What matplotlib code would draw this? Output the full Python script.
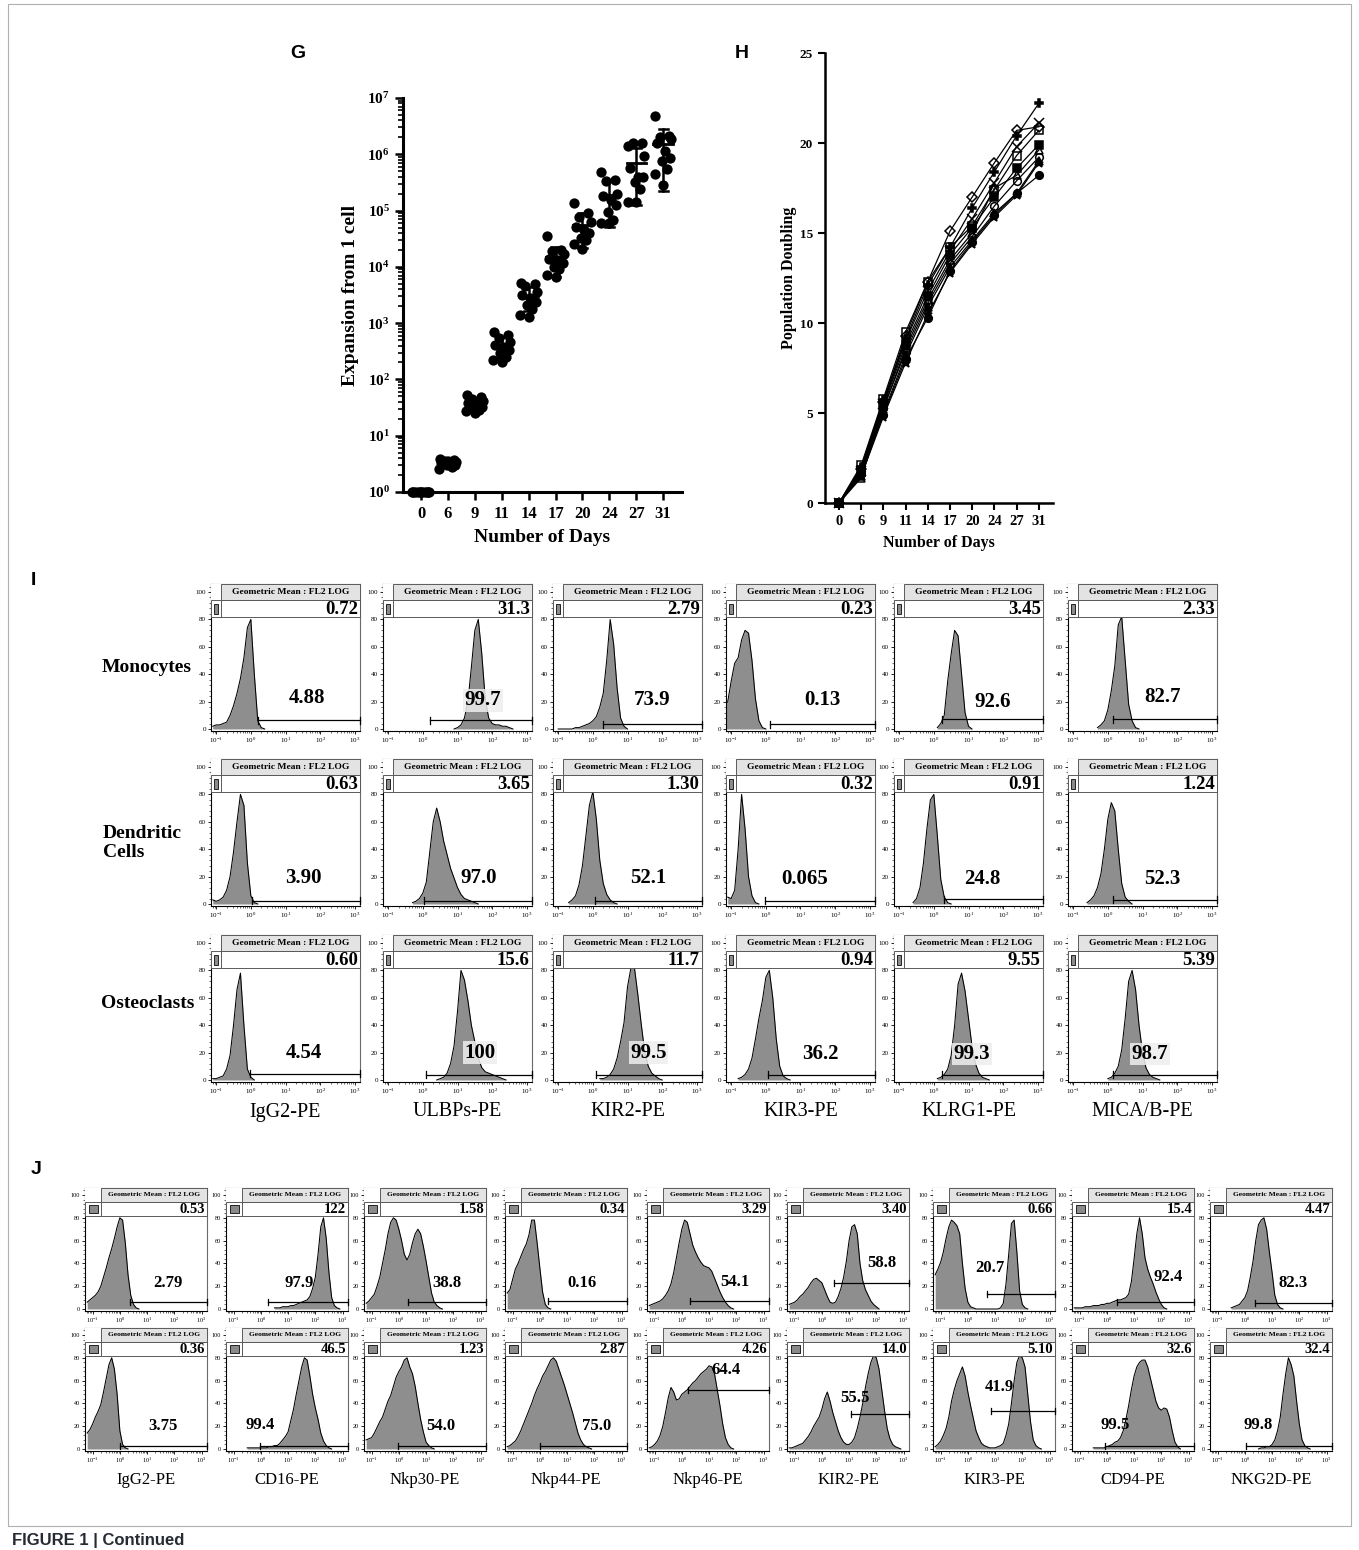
import numpy as np
import matplotlib
matplotlib.use('Agg')
import matplotlib.pyplot as plt
from matplotlib.patches import Rectangle
from matplotlib.ticker import LogLocator, NullFormatter, MultipleLocator, FixedLocator, LogFormatterMathtext

# ---------------- data ----------------
DAYS = ['0', '6', '9', '11', '14', '17', '20', '24', '27', '31']

# Panel G: expansion from 1 cell (one list per day)
G_EXPANSION = [
    [1, 1, 1, 1, 1, 1, 1, 1, 1, 1, 1],
    [3.9, 3.66, 3.56, 3.4, 3.28, 3.19, 3.07, 2.98, 2.78, 2.6, 3.6],
    [52, 49, 44, 42, 38, 36, 33, 31.6, 29, 27.7, 25.5],
    [705, 615, 535, 465, 405, 380, 332, 290, 252, 220, 205],
    [5100, 4900, 4500, 3600, 3200, 2800, 2400, 2100, 1800, 1400, 1260],
    [35000, 20000, 19000, 17000, 14000, 13300, 11500, 10000, 9000, 7200, 6600],
    [135000, 90000, 78000, 63000, 52000, 45000, 40000, 32000, 30000, 25000, 21000],
    [490000, 350000, 330000, 200000, 180000, 155000, 126000, 96000, 68000, 59000, 59000],
    [1.4e6, 1.6e6, 1.6e6, 9.3e5, 5.8e5, 3.9e5, 3.9e5, 3.2e5, 2.4e5, 1.4e5, 1.4e5],
    [4.8e6, 2.1e6, 2.0e6, 1.9e6, 1.6e6, 1.15e6, 8.7e5, 7.6e5, 5.5e5, 4.4e5, 2.8e5],
]

# Panel H: population doubling, one list per donor
H_DOUBLING = [
    [0, 1.9, 5.6, 9.3, 12.3, 15.1, 17.0, 18.9, 20.7, 20.9],
    [0, 2.0, 5.7, 9.1, 12.1, 14.2, 16.4, 18.4, 20.4, 22.2],
    [0, 1.8, 5.5, 9.0, 11.8, 14.0, 15.8, 17.8, 19.8, 21.1],
    [0, 2.1, 5.8, 9.5, 12.3, 14.2, 15.4, 17.4, 19.3, 20.7],
    [0, 1.7, 5.4, 8.8, 11.5, 13.8, 15.3, 17.0, 18.6, 19.9],
    [0, 1.4, 5.2, 8.6, 11.3, 13.5, 15.0, 17.5, 18.2, 19.6],
    [0, 1.6, 5.3, 8.4, 11.1, 13.3, 14.8, 16.5, 17.9, 19.2],
    [0, 1.5, 5.0, 8.2, 10.9, 13.1, 14.6, 16.1, 17.2, 19.0],
    [0, 1.5, 4.8, 7.8, 10.5, 12.8, 14.4, 15.9, 17.1, 18.9],
    [0, 1.8, 4.9, 8.0, 10.3, 12.9, 14.5, 16.0, 17.2, 18.2],
]

# Panel I: histograms (start log10 value, counts every 0.1 decade)
I_ROWS = ['Monocytes', 'Dendritic\nCells', 'Osteoclasts']
I_MARKERS = ['IgG2-PE', 'ULBPs-PE', 'KIR2-PE', 'KIR3-PE', 'KLRG1-PE', 'MICA/B-PE']
I_MONO = [
    (-1.1, [2, 3, 3, 4, 5, 10, 17, 26, 37, 52, 74, 80, 40, 6, 1, 0]),
    (0.9, [0, 1, 3, 8, 20, 45, 72, 80, 55, 22, 8, 4, 3, 3, 2, 2, 1, 0]),
    (-1.0, [0, 0, 0, 0, 0, 1, 1, 2, 3, 4, 6, 9, 16, 26, 50, 80, 62, 30, 8, 2, 0]),
    (-1.2, [16, 20, 35, 48, 52, 65, 72, 70, 50, 22, 6, 1, 0]),
    (0.1, [1, 4, 10, 35, 55, 72, 68, 40, 12, 2, 0]),
    (-0.3, [1, 3, 6, 14, 28, 46, 76, 82, 50, 18, 6, 1, 0]),
]
I_DEND = [
    (-1.1, [3, 2, 3, 5, 10, 20, 38, 60, 80, 72, 30, 6, 1, 0]),
    (-0.3, [1, 2, 4, 8, 16, 38, 60, 70, 60, 46, 36, 26, 19, 12, 7, 4, 3, 2, 1, 0]),
    (-0.7, [1, 3, 6, 14, 28, 50, 72, 82, 62, 32, 15, 7, 3, 1, 0]),
    (-1.1, [5, 4, 10, 40, 80, 55, 20, 6, 1, 0]),
    (-0.6, [1, 4, 12, 30, 55, 76, 80, 50, 18, 5, 1, 0]),
    (-0.6, [1, 3, 6, 12, 22, 40, 62, 74, 68, 40, 15, 5, 2, 0]),
]
I_OSTEO = [
    (-1.1, [1, 1, 2, 3, 8, 18, 40, 66, 78, 40, 8, 2, 0]),
    (0.4, [0, 1, 2, 5, 12, 25, 50, 80, 73, 58, 40, 28, 16, 9, 6, 5, 4, 3, 2, 1, 0]),
    (0.2, [1, 1, 2, 4, 8, 16, 28, 42, 68, 82, 82, 62, 40, 20, 10, 5, 3, 1, 0]),
    (-0.8, [1, 2, 4, 8, 16, 30, 45, 58, 75, 80, 60, 30, 10, 3, 1, 0]),
    (0.1, [1, 2, 4, 8, 18, 40, 70, 78, 65, 45, 25, 12, 5, 2, 1, 0]),
    (0.0, [1, 2, 5, 10, 22, 45, 72, 80, 66, 40, 20, 9, 4, 2, 1, 0]),
]
I_MEANS = [['0.72', '31.3', '2.79', '0.23', '3.45', '2.33'],
           ['0.63', '3.65', '1.30', '0.32', '0.91', '1.24'],
           ['0.60', '15.6', '11.7', '0.94', '9.55', '5.39']]
I_PCTS = [['4.88', '99.7', '73.9', '0.13', '92.6', '82.7'],
          ['3.90', '97.0', '52.1', '0.065', '24.8', '52.3'],
          ['4.54', '100', '99.5', '36.2', '99.3', '98.7']]
I_GATES = [[(0.2, 6.5), (0.21, 6.5), (0.29, 3.5), (0.12, 3.5), (0.24, 7), (0.15, 7)],
           [(0.03, 2.4), (0.03, 2.4), (0.06, 2.4), (-0.02, 2.4), (0.29, 3.6), (0.15, 3)],
           [(-0.02, 4.5), (0.1, 4), (0.08, 4), (0.05, 4), (0.24, 4), (0.15, 4)]]

# Panel J
J_MARKERS = ['IgG2-PE', 'CD16-PE', 'Nkp30-PE', 'Nkp44-PE', 'Nkp46-PE', 'KIR2-PE', 'KIR3-PE', 'CD94-PE', 'NKG2D-PE']
J_TOP = [
    (-1.2, [6, 8, 10, 12, 15, 20, 28, 36, 45, 53, 62, 72, 80, 78, 58, 30, 12, 4, 1, 0]),
    (0.5, [1, 1, 1, 2, 2, 2, 3, 3, 4, 5, 6, 7, 8, 11, 18, 28, 48, 72, 80, 62, 32, 10, 3, 1, 0]),
    (-1.2, [5, 7, 10, 13, 20, 28, 40, 52, 66, 76, 80, 78, 70, 60, 48, 43, 48, 58, 66, 70, 66, 55, 42, 28, 14, 6, 3, 1, 0]),
    (-1.2, [14, 17, 26, 35, 40, 46, 52, 57, 65, 78, 78, 58, 36, 15, 4, 1, 0]),
    (-1.2, [3, 4, 5, 6, 7, 9, 12, 16, 22, 32, 45, 58, 70, 78, 76, 66, 56, 50, 45, 41, 38, 37, 36, 33, 27, 21, 15, 10, 6, 3, 1, 0]),
    (-1.2, [4, 5, 6, 8, 11, 13, 16, 19, 23, 26, 27, 25, 23, 17, 11, 6, 5, 6, 11, 18, 28, 42, 60, 72, 74, 66, 40, 25, 17, 12, 7, 4, 2, 0]),
    (-1.2, [30, 35, 41, 50, 62, 72, 78, 76, 73, 66, 40, 18, 6, 2, 1, 0, 0, 0, 0, 0, 0, 0, 0, 0, 1, 5, 22, 48, 75, 78, 50, 16, 4, 1, 0]),
    (-1.2, [1, 1, 1, 1, 2, 2, 2, 3, 3, 3, 4, 4, 5, 5, 6, 7, 8, 8, 9, 10, 13, 24, 44, 66, 80, 66, 45, 35, 28, 22, 15, 9, 4, 1, 0]),
    (-0.5, [1, 2, 3, 4, 7, 10, 16, 28, 42, 60, 74, 78, 80, 70, 50, 32, 12, 4, 1, 0]),
]
J_BOTTOM = [
    (-1.2, [14, 17, 22, 28, 33, 39, 50, 62, 74, 80, 70, 48, 16, 4, 1, 0]),
    (-0.5, [1, 1, 1, 1, 1, 1, 1, 1, 2, 2, 3, 3, 5, 8, 11, 15, 25, 35, 48, 60, 72, 80, 78, 64, 48, 36, 26, 14, 7, 3, 1, 0]),
    (-1.2, [8, 9, 10, 14, 19, 24, 28, 35, 42, 47, 55, 63, 68, 72, 78, 80, 72, 66, 55, 40, 26, 15, 6, 3, 1, 0]),
    (-1.2, [2, 3, 5, 7, 11, 16, 22, 28, 34, 40, 47, 53, 58, 64, 68, 73, 78, 80, 77, 70, 63, 56, 48, 40, 32, 23, 14, 8, 4, 2, 1, 0]),
    (-1.2, [1, 2, 4, 7, 12, 20, 32, 45, 54, 50, 43, 44, 48, 50, 52, 55, 58, 60, 63, 66, 68, 70, 73, 72, 66, 52, 38, 22, 10, 4, 1, 0]),
    (-1.2, [1, 1, 2, 3, 4, 5, 8, 11, 15, 20, 24, 28, 35, 44, 50, 42, 32, 24, 16, 10, 6, 4, 4, 6, 10, 18, 28, 40, 54, 66, 76, 82, 80, 70, 52, 34, 18, 9, 4, 2, 1, 0]),
    (-1.2, [2, 4, 7, 12, 18, 28, 42, 52, 60, 66, 72, 64, 50, 38, 27, 16, 10, 5, 3, 2, 1, 1, 1, 2, 3, 5, 12, 22, 40, 60, 76, 82, 80, 72, 48, 24, 8, 3, 1, 0]),
    (-0.5, [1, 1, 1, 1, 1, 2, 3, 4, 6, 7, 10, 16, 26, 38, 52, 64, 72, 76, 78, 78, 72, 62, 52, 42, 36, 34, 36, 35, 28, 16, 6, 2, 0]),
    (0.5, [0, 1, 1, 2, 2, 4, 8, 16, 28, 48, 66, 80, 74, 64, 42, 22, 8, 3, 1, 0]),
]
J_MEANS = [['0.53', '122', '1.58', '0.34', '3.29', '3.40', '0.66', '15.4', '4.47'],
           ['0.36', '46.5', '1.23', '2.87', '4.26', '14.0', '5.10', '32.6', '32.4']]
J_PCTS = [['2.79', '97.9', '38.8', '0.16', '54.1', '58.8', '20.7', '92.4', '82.3'],
          ['3.75', '99.4', '54.0', '75.0', '64.4', '55.5', '41.9', '99.5', '99.8']]
J_GATES = [[(0.37, 6.4), (0.28, 6.4), (0.35, 6.4), (0.31, 7), (0.3, 7.3), (0.46, 23), (0.69, 13), (0.36, 6.4), (0.37, 5.5)],
           [(-0.01, 3), (-0.04, 3), (-0.02, 3), (-0.01, 3), (0.23, 52), (1.07, 30.5), (0.85, 33.5), (-0.08, 3), (0.03, 2.4)]]

# ---------------- layout (pixels) ----------------
W, H = 1359, 1550
SERIF = ['Liberation Serif', 'DejaVu Serif']
SANS = ['Liberation Sans', 'DejaVu Sans']
plt.rcParams['font.family'] = SERIF
plt.rcParams['mathtext.fontset'] = 'custom'
plt.rcParams['mathtext.rm'] = 'Liberation Serif'
plt.rcParams['mathtext.bf'] = 'Liberation Serif:bold'
plt.rcParams['mathtext.it'] = 'Liberation Serif:italic'

fig = plt.figure(figsize=(W / 100, H / 100), dpi=100)


def add_ax(l, t, r, b):
    return fig.add_axes([l / W, 1 - b / H, (r - l) / W, (b - t) / H])


def ftext(x, y, s, **kw):
    fig.text(x / W, 1 - y / H, s, **kw)


HIST_FILL = '#8e8e8e'
JITTER = [-0.3, 0.22, -0.12, 0.3, -0.24, 0.05, 0.26, -0.05, 0.14, -0.32, 0.0]

# ---------------- Panel G ----------------
axg = add_ax(403, 98, 682, 492)
for i, vals in enumerate(G_EXPANSION):
    vals = np.array(vals, dtype=float)
    xs = i + np.array(JITTER[:len(vals)])
    axg.scatter(xs, vals, s=55, c='k', zorder=3, clip_on=False, linewidths=0)
    m = vals.mean()
    sd = vals.std(ddof=1)
    lo, hi = max(m - sd, 1.0), m + sd
    axg.plot([i - 0.36, i + 0.36], [m, m], color='k', lw=2, zorder=4, clip_on=False)
    axg.plot([i, i], [lo, hi], color='k', lw=1.8, zorder=4, clip_on=False)
    for v in (lo, hi):
        axg.plot([i - 0.17, i + 0.17], [v, v], color='k', lw=1.8, zorder=4, clip_on=False)
axg.set_yscale('log')
axg.set_ylim(1, 1e7)
axg.set_xlim(-0.67, 9.7)
axg.set_yticks([10 ** k for k in range(8)])
axg.set_yticklabels([r'$\mathbf{10^{%d}}$' % k for k in range(8)], fontsize=11)
axg.yaxis.set_minor_locator(LogLocator(base=10, subs=np.arange(2, 10), numticks=20))
axg.yaxis.set_minor_formatter(NullFormatter())
axg.set_xticks(range(10))
axg.set_xticklabels(DAYS, fontsize=12, fontweight='bold')
for s in ['top', 'right']:
    axg.spines[s].set_visible(False)
for s in ['left', 'bottom']:
    axg.spines[s].set_linewidth(2.2)
axg.tick_params(axis='both', which='major', width=1.8, length=6, direction='out')
axg.tick_params(axis='y', which='minor', width=1.2, length=3.5)
axg.tick_params(axis='x', which='major', pad=4)
axg.set_ylabel('Expansion from 1 cell', fontsize=14, fontweight='bold', labelpad=6)
axg.set_xlabel('Number of Days', fontsize=14, fontweight='bold', labelpad=5)

# ---------------- Panel H ----------------
axh = add_ax(825, 53, 1053, 503)
H_MARK = ['D', 'P', 'x', 's', 's', '^', 'o', '^', '*', 'o']
H_FILL = ['none', 'k', 'k', 'none', 'k', 'none', 'none', 'k', 'k', 'k']
for vals, mk, fc in zip(H_DOUBLING, H_MARK, H_FILL):
    axh.plot(range(10), vals, color='k', lw=0.9, marker=mk, mfc=fc, mec='k',
             ms=5.5 if mk not in ('x', '*') else 6.5, mew=1.1, clip_on=False, zorder=3)
axh.set_ylim(0, 25)
axh.set_xlim(-0.63, 9.64)
axh.set_yticks([0, 5, 10, 15, 20, 25])
axh.set_yticklabels(['0', '5', '10', '15', '20', '25'], fontsize=9.5, fontweight='bold')
axh.set_xticks(range(10))
axh.set_xticklabels(DAYS, fontsize=10.5, fontweight='bold')
for s in ['top', 'right']:
    axh.spines[s].set_visible(False)
for s in ['left', 'bottom']:
    axh.spines[s].set_linewidth(1.8)
axh.tick_params(axis='both', which='major', width=1.5, length=5, direction='out')
axh.set_ylabel('Population Doubling', fontsize=11.5, fontweight='bold', labelpad=2)
axh.set_xlabel('Number of Days', fontsize=11.5, fontweight='bold', labelpad=5)


# ---------------- histogram panels ----------------
def hist_panel(rect, data, mean_txt, pct_txt, gate, tpos, cfg, box=False):
    ax = add_ax(*rect)
    start, vals = data
    lx = start + 0.1 * np.arange(len(vals))
    x = 10 ** lx
    ax.fill_between(x, vals, 0, color=HIST_FILL, lw=0, zorder=2)
    ax.plot(x, vals, color='k', lw=0.75, zorder=3)
    ax.set_xscale('log')
    x0, x1 = 10 ** cfg['x0'], 10 ** cfg['x1']
    ax.set_xlim(x0, x1)
    y0, y1 = -1.5, 106
    ax.set_ylim(y0, y1)
    # gate
    gs, gy = gate
    ax.plot([10 ** gs, x1], [gy, gy], color='k', lw=0.9, zorder=6, clip_on=False)
    for gx in (10 ** gs, x1):
        ax.plot([gx, gx], [gy - 2.6, gy + 2.6], color='k', lw=0.9, zorder=6, clip_on=False)
    # percentage text
    bb = dict(facecolor='#eeeeee', edgecolor='none', alpha=0.85, pad=1.0) if box else None
    ax.text(10 ** tpos[0], tpos[1], pct_txt, ha='center', va='center', fontsize=cfg['pct_fs'],
            fontweight='bold', zorder=8, bbox=bb)
    # header
    yy = lambda v: (v - y0) / (y1 - y0)
    a81, a94 = yy(81.5), yy(94)
    lf = cfg['lf']
    tr = ax.transAxes
    ax.add_patch(Rectangle((0, a81), 1, 1 - a81, transform=tr, fc='white', ec='none', zorder=9, clip_on=False))
    ax.add_patch(Rectangle((lf, a94), 1 - lf, 1 - a94, transform=tr, fc='#e3e3e3', ec='#5a5a5a', lw=0.7, zorder=10, clip_on=False))
    ax.add_patch(Rectangle((0, a81), 1, a94 - a81, transform=tr, fc='none', ec='#5a5a5a', lw=0.7, zorder=10, clip_on=False))
    ax.plot([lf, lf], [a81, a94], transform=tr, color='#5a5a5a', lw=0.7, zorder=10, clip_on=False)
    sw, sh = cfg['sw']
    ax.add_patch(Rectangle((lf / 2 - sw / 2, (a81 + a94) / 2 - sh / 2), sw, sh, transform=tr,
                           fc='#8a8a8a', ec='#222222', lw=0.7, zorder=11, clip_on=False))
    ax.text((lf + 1) / 2, (a94 + 1) / 2, 'Geometric Mean : FL2 LOG', transform=tr, ha='center',
            va='center', fontsize=cfg['title_fs'], fontweight='bold', zorder=12)
    ax.text(0.985, (a81 + a94) / 2 - 0.005, mean_txt, transform=tr, ha='right', va='center',
            fontsize=cfg['mean_fs'], fontweight='bold', zorder=12)
    # axes styling
    for s in ['top', 'right']:
        ax.spines[s].set_color('#6a6a6a')
        ax.spines[s].set_linewidth(0.8)
    for s in ['left', 'bottom']:
        ax.spines[s].set_color('k')
        ax.spines[s].set_linewidth(0.8)
    ax.set_yticks([0, 20, 40, 60, 80, 100])
    ax.yaxis.set_minor_locator(MultipleLocator(4))
    ax.xaxis.set_major_locator(FixedLocator([0.1, 1, 10, 100, 1000]))
    ax.xaxis.set_major_formatter(LogFormatterMathtext())
    ax.xaxis.set_minor_locator(LogLocator(base=10, subs=np.arange(2, 10), numticks=20))
    ax.xaxis.set_minor_formatter(NullFormatter())
    ax.tick_params(axis='both', which='major', length=2.2, width=0.6, labelsize=cfg['tick_fs'], pad=1.5)
    ax.tick_params(axis='both', which='minor', length=1.2, width=0.4)
    return ax


I_CFG = dict(x0=-1.15, x1=3.15, lf=0.065, sw=(0.03, 0.065), title_fs=6.8, mean_fs=13.5, pct_fs=15, tick_fs=5)
J_CFG = dict(x0=-1.28, x1=3.2, lf=0.135, sw=(0.075, 0.07), title_fs=5.4, mean_fs=10.5, pct_fs=12, tick_fs=4.5)

I_LEFT = [211, 383, 553, 726, 894, 1068]
I_Y0 = [729, 904, 1080]
I_PX = 1.37
I_TEXT_POS = [[(1.62, 22.6), (1.74, 21), (1.72, 21), (1.62, 21), (1.71, 20), (1.59, 23)],
              [(1.53, 19), (1.6, 19), (1.6, 19), (1.13, 18), (1.4, 18), (1.56, 18)],
              [(1.53, 20), (1.65, 20), (1.6, 20), (1.58, 19), (1.1, 19), (1.22, 19)]]
I_BOX = [[False, True, False, False, False, False],
         [False, False, False, False, False, False],
         [False, True, True, False, True, True]]
I_DATA = [I_MONO, I_DEND, I_OSTEO]
for r in range(3):
    for c in range(6):
        rect = (I_LEFT[c], I_Y0[r] - 106 * I_PX, I_LEFT[c] + 149, I_Y0[r] + 1.5 * I_PX)
        hist_panel(rect, I_DATA[r][c], I_MEANS[r][c], I_PCTS[r][c], I_GATES[r][c],
                   I_TEXT_POS[r][c], I_CFG, box=I_BOX[r][c])

J_LEFT = [85, 226, 364, 505, 647, 787, 933, 1072, 1210]
J_Y0 = [1309, 1449]
J_PX = 1.14
J_TEXT_POS = [[(1.78, 23), (1.4, 23), (1.76, 23), (1.54, 23), (1.96, 24), (2.2, 40), (0.82, 36), (2.26, 28), (1.78, 22.5)],
              [(1.59, 20), (-0.04, 21), (1.54, 20), (2.1, 20), (1.62, 69), (1.22, 45), (1.15, 54), (0.3, 21), (0.48, 21)]]
J_DATA = [J_TOP, J_BOTTOM]
for r in range(2):
    for c in range(9):
        rect = (J_LEFT[c], J_Y0[r] - 106 * J_PX, J_LEFT[c] + 122, J_Y0[r] + 1.5 * J_PX)
        hist_panel(rect, J_DATA[r][c], J_MEANS[r][c], J_PCTS[r][c], J_GATES[r][c],
                   J_TEXT_POS[r][c], J_CFG)

# ---------------- figure texts ----------------
ftext(298, 53, 'G', fontsize=14, fontweight='bold', family=SANS, ha='center', va='center')
ftext(742, 53, 'H', fontsize=14, fontweight='bold', family=SANS, ha='center', va='center')
ftext(33, 580, 'I', fontsize=14, fontweight='bold', family=SANS, ha='center', va='center')
ftext(36, 1170, 'J', fontsize=14, fontweight='bold', family=SANS, ha='center', va='center')

ftext(192, 667, 'Monocytes', fontsize=14, fontweight='bold', ha='right', va='center')
ftext(103, 843, 'Dendritic\nCells', fontsize=14, fontweight='bold', ha='left', va='center', linespacing=1.15)
ftext(194, 1003, 'Osteoclasts', fontsize=14, fontweight='bold', ha='right', va='center')

for c, lab in enumerate(I_MARKERS):
    ftext(I_LEFT[c] + 74.5, 1112, lab, fontsize=14.5, ha='center', va='center')
for c, lab in enumerate(J_MARKERS):
    ftext(J_LEFT[c] + 61, 1480, lab, fontsize=12, ha='center', va='center')

ftext(12, 1540, 'FIGURE 1 | Continued', fontsize=12, fontweight='bold', family=SANS,
      ha='left', va='center', color='#262a33')

fig.add_artist(Rectangle((8 / W, 1 - 1526 / H), (1351 - 8) / W, (1526 - 4) / H, transform=fig.transFigure,
                         fill=False, ec='#b0b0b0', lw=0.8))

fig.savefig('out.png', dpi=100, facecolor='white')
